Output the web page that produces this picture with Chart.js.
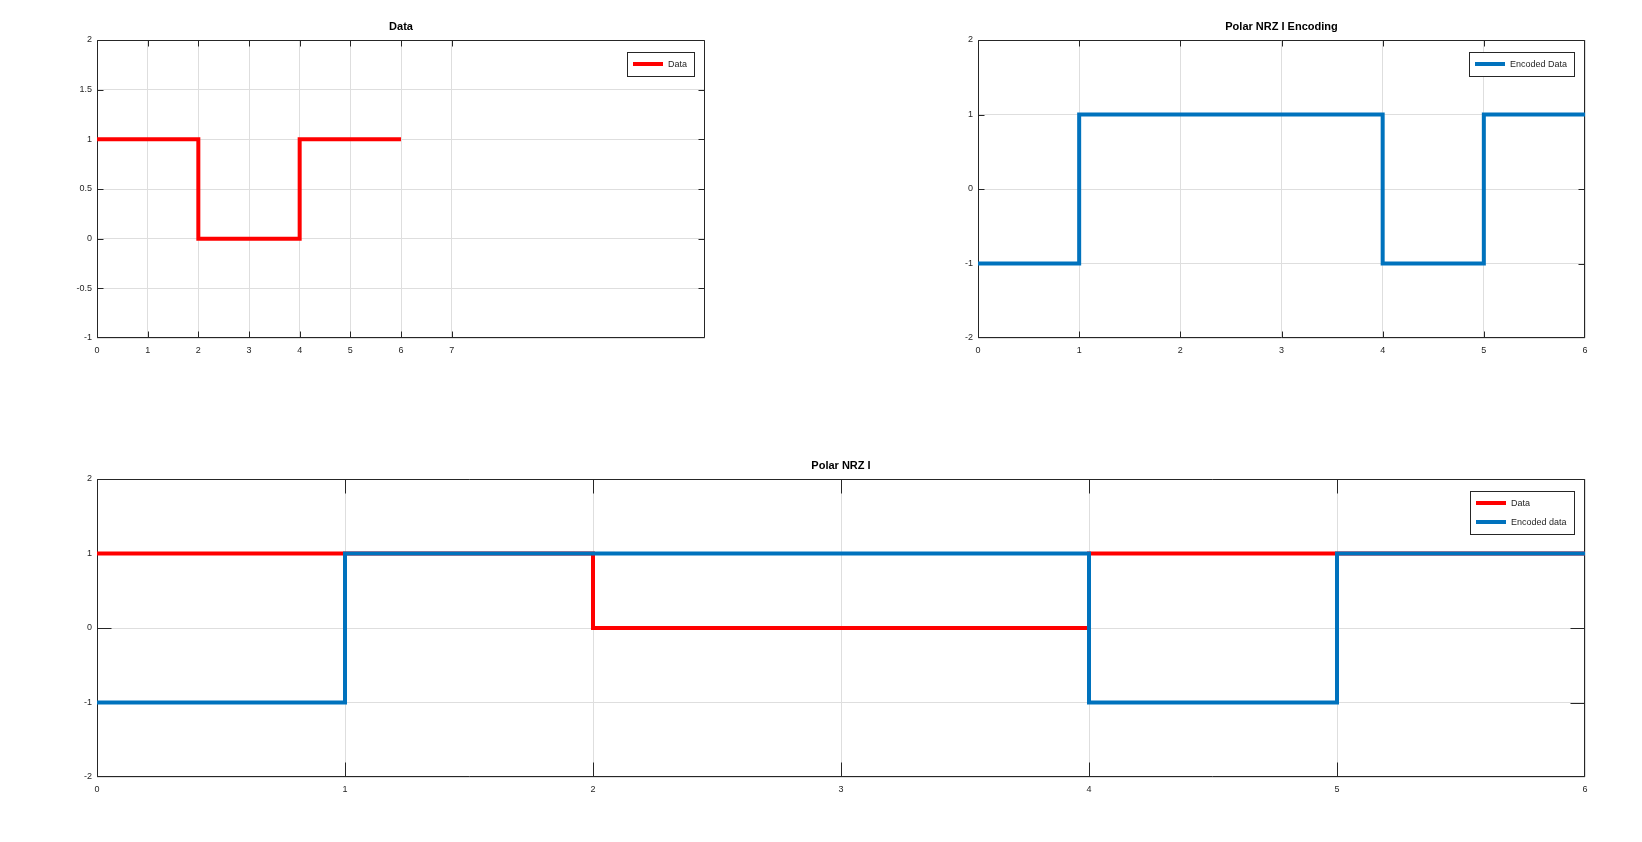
<!DOCTYPE html>
<html>
<head>
<meta charset="utf-8">
<script src="https://cdn.jsdelivr.net/npm/chart.js@4"></script>
<style>
  html, body { margin: 0; padding: 0; background: #ffffff; overflow: hidden; }
  body { width: 1642px; height: 842px; position: relative; overflow: hidden; }
  canvas { position: absolute; }
</style>
</head>
<body>
<canvas id="cData" width="760" height="400" style="left:0px;top:0px;width:760px;height:400px"></canvas>
<canvas id="cEnc" width="760" height="400" style="left:880px;top:0px;width:760px;height:400px"></canvas>
<canvas id="cBoth" width="1640" height="400" style="left:0px;top:440px;width:1640px;height:400px"></canvas>
<script>
// ---- data ----
const timeAxis    = [0, 1, 2, 3, 4, 5, 6];
const dataBits    = [1, 1, 0, 0, 1, 1, 1];
const encodedBits = [-1, 1, 1, 1, -1, 1, 1];

// ---- tick labels / axis ranges ----
const xTicksData = [0, 1, 2, 3, 4, 5, 6, 7];
const xRangeData = [0, 12];
const yTicksData = [-1, -0.5, 0, 0.5, 1, 1.5, 2];
const xTicksEnc  = [0, 1, 2, 3, 4, 5, 6];
const yTicksEnc  = [-2, -1, 0, 1, 2];

const titles = ['Data', 'Polar NRZ I Encoding', 'Polar NRZ I'];
const labels = { data: 'Data', encA: 'Encoded Data', encB: 'Encoded data' };

const RED = '#ff0000';
const BLUE = '#0072bd';
const FONT = "'Liberation Sans', Arial, sans-serif";
const TXT = '#262626';
const GRID = '#dedede';

function pts(xs, ys) { return xs.map((x, i) => ({ x: x, y: ys[i] })); }

const framePlugin = {
  id: 'frame',
  beforeDatasetsDraw(chart, args, opts) {
    const ctx = chart.ctx, a = chart.chartArea;
    const xs = chart.scales.x, ys = chart.scales.y;
    const L = Math.round(a.left) + 0.5, R = Math.round(a.right) - 0.5;
    const T = Math.round(a.top) + 0.5, B = Math.round(a.bottom) - 0.5;
    const len = opts.tickLen || 6;
    const clamp = (v, lo, hi) => Math.min(hi, Math.max(lo, v));
    ctx.save();
    ctx.strokeStyle = TXT;
    ctx.lineWidth = 1;
    ctx.beginPath();
    ctx.rect(L, T, R - L, B - T);
    ctx.stroke();
    ctx.beginPath();
    xs.ticks.forEach(t => {
      const px = clamp(Math.round(xs.getPixelForValue(t.value)) + 0.5, L, R);
      ctx.moveTo(px, B); ctx.lineTo(px, B - len);
      ctx.moveTo(px, T); ctx.lineTo(px, T + len);
    });
    ys.ticks.forEach(t => {
      const py = clamp(Math.round(ys.getPixelForValue(t.value)) + 0.5, T, B);
      ctx.moveTo(L, py); ctx.lineTo(L + len, py);
      ctx.moveTo(R, py); ctx.lineTo(R - len, py);
    });
    ctx.stroke();
    // title centred over the plot area
    ctx.fillStyle = '#000000';
    ctx.font = 'bold 11px ' + FONT;
    ctx.textAlign = 'center';
    ctx.textBaseline = 'alphabetic';
    ctx.fillText(opts.title, (a.left + a.right) / 2, a.top - 10);
    ctx.restore();
  }
};

const legendPlugin = {
  id: 'boxLegend',
  afterDatasetsDraw(chart, args, opts) {
    const ctx = chart.ctx, a = chart.chartArea;
    const ds = chart.data.datasets;
    ctx.save();
    ctx.font = '9px ' + FONT;
    let maxW = 0;
    ds.forEach(d => { maxW = Math.max(maxW, ctx.measureText(d.label).width); });
    const lineLen = 30, padL = 6, gap = 5, padR = 7, step = 19, padV = 12;
    const w = Math.round(padL + lineLen + gap + maxW + padR);
    const h = Math.round(padV * 2 + (ds.length - 1) * step);
    const right = Math.round(a.right) - 11;
    const top = Math.round(a.top) + 12;
    const left = right - w;
    ctx.fillStyle = '#ffffff';
    ctx.fillRect(left, top, w, h);
    ctx.strokeStyle = TXT;
    ctx.lineWidth = 1;
    ctx.strokeRect(left + 0.5, top + 0.5, w, h);
    ds.forEach((d, i) => {
      const y = top + padV + i * step;
      ctx.strokeStyle = d.borderColor;
      ctx.lineWidth = 4;
      ctx.beginPath();
      ctx.moveTo(left + padL, y);
      ctx.lineTo(left + padL + lineLen, y);
      ctx.stroke();
      ctx.fillStyle = TXT;
      ctx.textBaseline = 'middle';
      ctx.textAlign = 'left';
      ctx.fillText(d.label, left + padL + lineLen + gap, y + 0.5);
    });
    ctx.restore();
  }
};

function makeChart(id, cfg) {
  const n = cfg.series.length;
  return new Chart(document.getElementById(id), {
    type: 'scatter',
    data: {
      datasets: cfg.series.map((s, i) => ({
        label: s.label,
        data: pts(timeAxis, s.values),
        order: n - 1 - i,
        showLine: true,
        stepped: 'before',
        borderColor: s.color,
        backgroundColor: s.color,
        borderWidth: 4,
        borderJoinStyle: 'miter',
        borderCapStyle: 'butt',
        pointRadius: 0,
        pointHoverRadius: 0,
        fill: false
      }))
    },
    options: {
      responsive: false,
      maintainAspectRatio: false,
      devicePixelRatio: 1,
      animation: false,
      events: [],
      layout: { padding: cfg.padding },
      plugins: {
        legend: { display: false },
        tooltip: { enabled: false },
        title: { display: false },
        frame: { tickLen: cfg.tickLen, title: cfg.title }
      },
      scales: {
        x: {
          type: 'linear',
          min: cfg.xRange[0], max: cfg.xRange[1],
          afterBuildTicks: sc => { sc.ticks = cfg.xTicks.map(v => ({ value: v })); },
          afterFit: sc => { sc.height = 30; },
          grid: { color: GRID, lineWidth: 1, drawTicks: false },
          border: { display: false },
          ticks: {
            color: TXT, padding: 7, maxRotation: 0, autoSkip: false,
            font: { family: FONT, size: 9 },
            callback: v => String(v)
          }
        },
        y: {
          type: 'linear',
          min: cfg.yTicks[0], max: cfg.yTicks[cfg.yTicks.length - 1],
          afterBuildTicks: sc => { sc.ticks = cfg.yTicks.map(v => ({ value: v })); },
          afterFit: sc => { sc.width = 50; },
          grid: { color: GRID, lineWidth: 1, drawTicks: false },
          border: { display: false },
          ticks: {
            color: TXT, padding: 5, autoSkip: false,
            font: { family: FONT, size: 9 },
            callback: v => String(v)
          }
        }
      }
    },
    plugins: [framePlugin, legendPlugin]
  });
}

makeChart('cData', {
  title: titles[0],
  series: [{ label: labels.data, values: dataBits, color: RED }],
  xRange: xRangeData, xTicks: xTicksData, yTicks: yTicksData,
  padding: { left: 47, right: 55, top: 40, bottom: 32 },
  tickLen: 6
});

makeChart('cEnc', {
  title: titles[1],
  series: [{ label: labels.encA, values: encodedBits, color: BLUE }],
  xRange: [xTicksEnc[0], xTicksEnc[xTicksEnc.length - 1]], xTicks: xTicksEnc, yTicks: yTicksEnc,
  padding: { left: 48, right: 55, top: 40, bottom: 32 },
  tickLen: 6
});

makeChart('cBoth', {
  title: titles[2],
  series: [
    { label: labels.data, values: dataBits, color: RED },
    { label: labels.encB, values: encodedBits, color: BLUE }
  ],
  xRange: [xTicksEnc[0], xTicksEnc[xTicksEnc.length - 1]], xTicks: xTicksEnc, yTicks: yTicksEnc,
  padding: { left: 47, right: 55, top: 39, bottom: 33 },
  tickLen: 14
});
</script>
</body>
</html>
